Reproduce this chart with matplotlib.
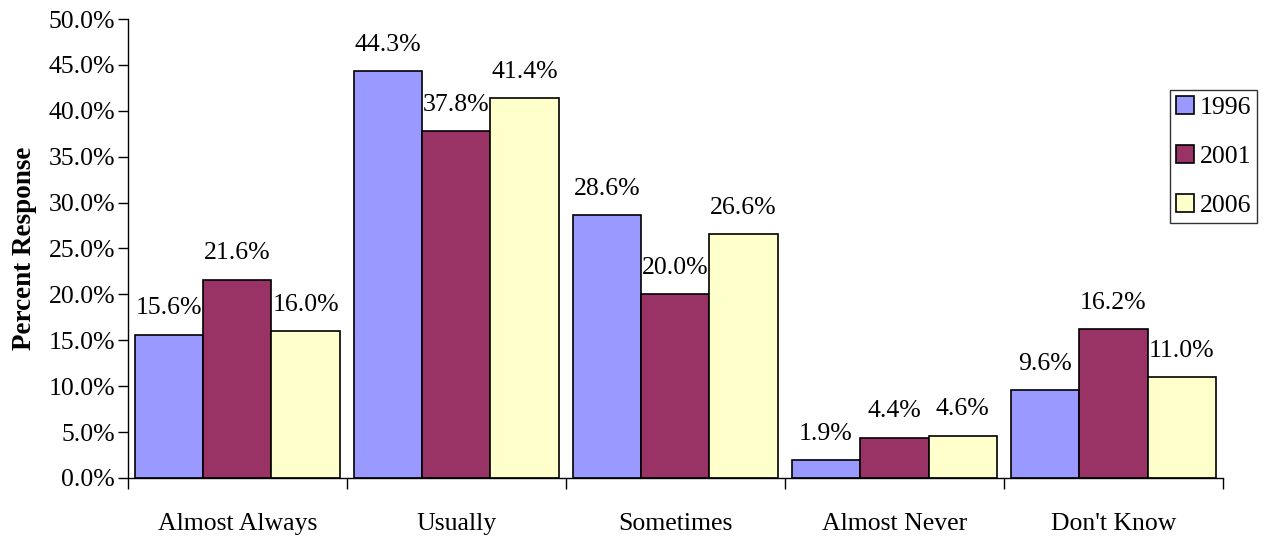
import numpy as np
import matplotlib.pyplot as plt
from matplotlib.ticker import FixedLocator, FuncFormatter

plt.rcParams['font.family'] = ['Liberation Serif', 'DejaVu Serif']

categories = ["Almost Always", "Usually", "Sometimes", "Almost Never", "Don't Know"]
years = ["1996", "2001", "2006"]
resp_1996 = [15.6, 44.3, 28.6, 1.9, 9.6]
resp_2001 = [21.6, 37.8, 20.0, 4.4, 16.2]
resp_2006 = [16.0, 41.4, 26.6, 4.6, 11.0]
colors = ["#9999FF", "#993366", "#FFFFCC"]

FS = 18.5

fig = plt.figure(figsize=(12.64, 5.37), dpi=100)
ax = fig.add_axes([0.101, 0.110, 0.8665, 0.8545])

x = np.arange(len(categories))
w = 0.312
for i, (vals, yr, c) in enumerate(zip([resp_1996, resp_2001, resp_2006], years, colors)):
    bars = ax.bar(x + (i - 1) * w, vals, width=w, color=c, edgecolor='black',
                  linewidth=1.2, label=yr, zorder=2)
    for b, v in zip(bars, vals):
        ax.annotate(f"{v:.1f}%", (b.get_x() + b.get_width() / 2, v),
                    xytext=(0, 11), textcoords='offset points',
                    ha='center', va='bottom', fontsize=FS)

ax.set_xlim(-0.5, len(categories) - 0.5)
ax.set_ylim(0, 50)
ax.set_yticks(np.arange(0, 50.1, 5))
ax.yaxis.set_major_formatter(FuncFormatter(lambda v, p: f"{v:.1f}%"))
ax.tick_params(axis='y', direction='out', length=7, width=1, labelsize=FS, pad=2)

# category labels at centres, separator ticks between groups
ax.set_xticks(x)
ax.set_xticklabels(categories)
ax.xaxis.set_minor_locator(FixedLocator(np.arange(-0.5, len(categories), 1)))
ax.tick_params(axis='x', which='major', length=0, labelsize=FS, pad=25)
ax.tick_params(axis='x', which='minor', direction='out', length=8, width=1)

for s in ['top', 'right']:
    ax.spines[s].set_visible(False)
for s in ['left', 'bottom']:
    ax.spines[s].set_linewidth(1)

ax.set_ylabel("Percent Response", fontsize=19.5, fontweight='bold', labelpad=8)

leg = fig.legend(loc='upper left', bbox_to_anchor=(1170 / 1264, 1 - 90 / 537),
                 fontsize=FS, frameon=True, fancybox=False, edgecolor='black',
                 handlelength=0.7, handleheight=0.7, handletextpad=0.2,
                 labelspacing=1.0, borderpad=0.25, borderaxespad=0)
leg.get_frame().set_linewidth(1)

fig.savefig("out.png", dpi=100)
